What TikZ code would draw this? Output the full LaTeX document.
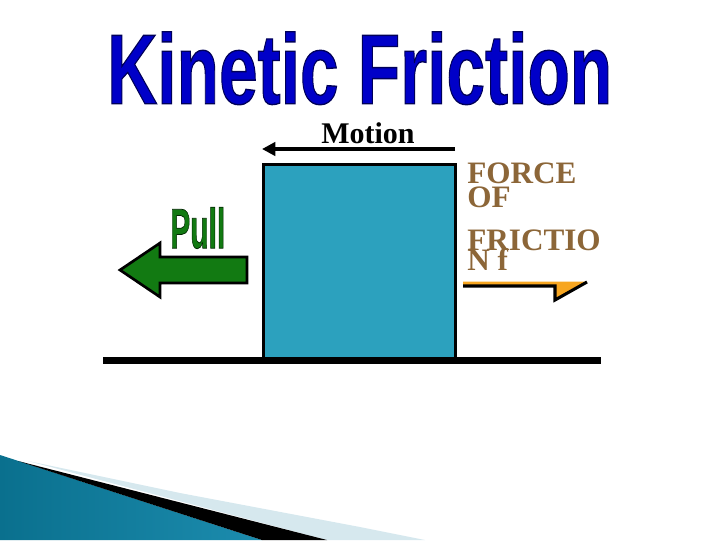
\documentclass[tikz,border=0pt]{standalone}
\usepackage{fontspec}
\setmainfont{Liberation Serif}
\newfontfamily\titlefont[FakeBold=1.4]{Liberation Sans Bold}
\usetikzlibrary{arrows.meta}
\definecolor{titleblue}{RGB}{0,0,200}
\definecolor{pullgreen}{RGB}{18,122,18}
\definecolor{blockblue}{RGB}{44,161,190}
\definecolor{forcebrown}{RGB}{140,102,56}
\definecolor{fricorange}{RGB}{247,166,33}
\definecolor{tealA}{RGB}{10,112,142}
\definecolor{tealB}{RGB}{62,172,206}
\definecolor{tealC}{RGB}{28,140,174}
\definecolor{paleband}{RGB}{214,232,238}
\tikzset{
  forcetext/.style={anchor=base west, inner sep=0, text=forcebrown,
    text height=14.8pt, text depth=0pt,
    font=\bfseries\fontsize{23.4}{23.4}\selectfont},
  arrowshape/.style={draw=black, line width=2pt, line join=miter}
}
\begin{document}
\begin{tikzpicture}[x=0.75pt,y=-0.75pt]
\useasboundingbox (0,0) rectangle (720,540);
% bottom-left swoosh
\shade[left color=tealA, middle color=tealB, right color=tealC]
  (0,455) -- (262,540) -- (0,540) -- cycle;
\fill[paleband] (28,461) -- (180,493) -- (360,527) -- (425,540) -- (327,540) -- cycle;
\fill[black] (18,461) -- (327,540) -- (262,540) -- cycle;
% title
\node[anchor=south west, inner sep=0, text=titleblue] (title) at (107,105)
  {\resizebox{378.75pt}{54pt}{\titlefont\fontsize{44}{44}\selectfont\special{pdf:literal 0 0 0.35 RG}Kinetic Friction}};
% motion
\node[anchor=base, inner sep=0, text height=15pt, text depth=0pt,
  font=\bfseries\fontsize{22.5}{22.5}\selectfont] (motion) at (368,143) {Motion};
\coordinate (mstart) at (455,149);
\coordinate (mend) at (262,149);
\draw[line width=3.5pt, -{Triangle[length=10pt,width=10pt]}] (mstart) -- (mend);
% block
\node[draw, line width=2.25pt, fill=blockblue, anchor=north west, inner sep=0,
  minimum width=144pt, minimum height=147.4pt] (block) at (261.5,162.5) {};
% ground
\coordinate (gl) at (103,360);
\coordinate (gr) at (601,360);
\draw[line width=5.25pt] (gl) -- (gr);
% pull
\node[anchor=south west, inner sep=0, text=pullgreen] (pull) at (170,249)
  {\resizebox{41.25pt}{30.75pt}{\titlefont\fontsize{30}{30}\selectfont\special{pdf:literal 0 0.15 0 RG}Pull}};
\filldraw[arrowshape, fill=pullgreen] (120,270) -- (160,243) -- (160,257) -- (247,257)
  -- (247,283) -- (160,283) -- (160,297) -- cycle;
% friction
\node[forcetext] (f1) at (467,183) {FORCE};
\node[forcetext] (f2) at (467,207) {OF};
\node[forcetext] (f3) at (467,250) {FRICTIO};
\node[forcetext] (f4) at (467,270) {N f};
\fill[fricorange] (463,281.5) -- (587,281.5) -- (556,299) -- (556,285) -- (463,285) -- cycle;
\draw[line width=2.3pt, line join=miter] (463,286) -- (555,286) -- (555,300) -- (587,282);
\end{tikzpicture}
\end{document}
